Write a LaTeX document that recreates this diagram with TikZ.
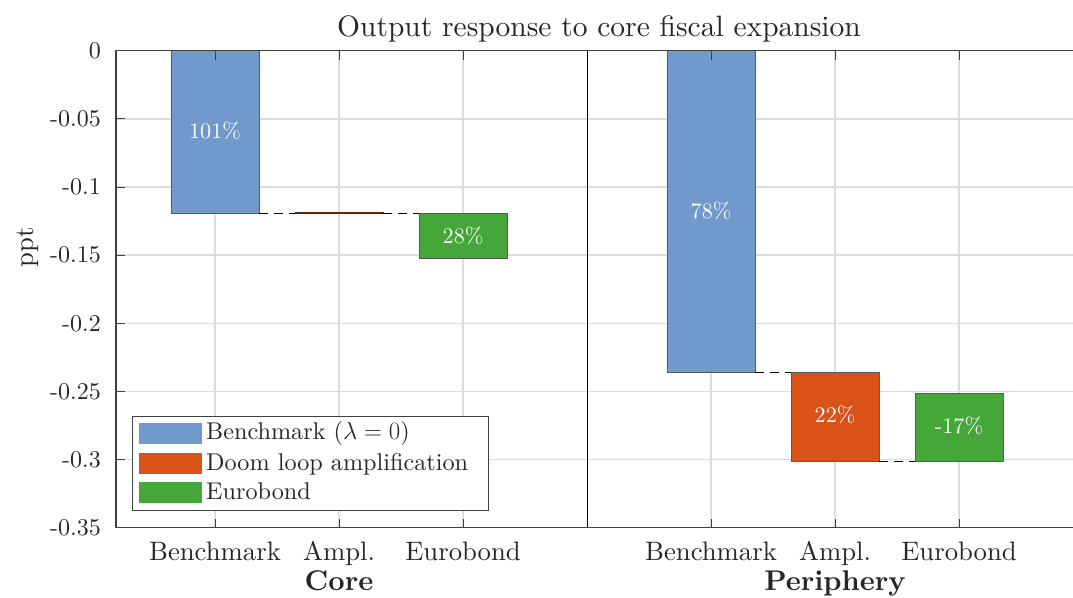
\documentclass[tikz,border=0pt]{standalone}
\DeclareFontFamily{TU}{lmten}{}
\DeclareFontShape{TU}{lmten}{m}{n}{<-> \UnicodeFontFile{lmroman10-regular}{\UnicodeFontTeXLigatures}}{}
\DeclareFontShape{TU}{lmten}{bx}{n}{<-> \UnicodeFontFile{lmroman10-bold}{\UnicodeFontTeXLigatures}}{}
\DeclareFontShape{TU}{lmten}{b}{n}{<-> ssub * lmten/bx/n}{}
\renewcommand{\rmdefault}{lmten}
\definecolor{cblue}{RGB}{114,153,204}
\definecolor{cred}{RGB}{217,83,25}
\definecolor{cgreen}{RGB}{69,167,58}
\definecolor{cedge}{RGB}{90,90,90}
\definecolor{cgrid}{RGB}{220,220,220}
\definecolor{caxis}{RGB}{64,64,64}
\definecolor{ctext}{RGB}{38,38,38}
\newcommand{\fs}[1]{\fontsize{#1}{#1}\selectfont}
\tikzset{
  bar/.style={draw=cedge, line width=1pt},
  barlabel/.style={text=white, font=\fs{22.2}, inner sep=0pt},
  ticklabel/.style={text=ctext, font=\fs{24}, anchor=east, inner sep=0pt},
  catlabel/.style={text=ctext, font=\fs{26.7}, anchor=base, inner sep=0pt},
  grouplabel/.style={text=ctext, font=\fs{28.5}\bfseries, anchor=base, inner sep=0pt},
  leglabel/.style={text=ctext, font=\fs{24.2}, anchor=base west, inner sep=0pt},
  gridline/.style={draw=cgrid, line width=1.4pt},
  axisline/.style={draw=caxis, line width=1.4pt},
  joinline/.style={draw=black, line width=1pt, dash pattern=on 9pt off 6pt},
}
\begin{document}
\begin{tikzpicture}[x=1pt,y=-1pt]
\useasboundingbox (0,0) rectangle (1073,597);
% grid
\foreach \yy in {118.8,187.0,255.1,323.3,391.4,459.6}
  \draw[gridline] (116,\yy) -- (1073,\yy);
\foreach \xx in {215,339,463,711,835,959}
  \draw[gridline] (\xx,50.7) -- (\xx,527.7);
% bars
\draw[bar, fill=cblue] (171,50.7) rectangle (259,213.5);
\draw[bar, fill=cred, draw=cred!45!black, line width=0.8pt] (295,212.6) rectangle (383,213.6);
\draw[bar, fill=cgreen] (419,213) rectangle (507,258);
\draw[bar, fill=cblue] (667,50.7) rectangle (755,372);
\draw[bar, fill=cred] (791,372) rectangle (879,461);
\draw[bar, fill=cgreen] (915,393) rectangle (1003,461);
% joins
\coordinate (j1a) at (259,213.5); \coordinate (j1b) at (295,213.5);
\coordinate (j2a) at (383,213); \coordinate (j2b) at (419,213);
\coordinate (j3a) at (755,372); \coordinate (j3b) at (791,372);
\coordinate (j4a) at (879,461); \coordinate (j4b) at (915,461);
\draw[joinline] (j1a) -- (j1b);
\draw[joinline] (j2a) -- (j2b);
\draw[joinline] (j3a) -- (j3b);
\draw[joinline] (j4a) -- (j4b);
% bar labels
\node[barlabel] (l1) at (215,131) {101\%};
\node[barlabel] (l2) at (463,236) {28\%};
\node[barlabel] (l3) at (711,211) {78\%};
\node[barlabel] (l4) at (835,415) {22\%};
\node[barlabel] (l5) at (959,426) {-17\%};
% axes
\draw[axisline] (1073,50.7) -- (116,50.7) -- (116,527.7) -- (1073,527.7);
\draw[line width=1.2pt, black] (587.3,50.7) -- (587.3,527.7);
\foreach \yy in {50.7,118.8,187.0,255.1,323.3,391.4,459.6,527.7}
  \draw[axisline, line width=1pt] (116,\yy) -- (125,\yy);
\foreach \xx in {215,339,463,711,835,959}{
  \draw[axisline, line width=1pt] (\xx,527.7) -- (\xx,518.7);
  \draw[axisline, line width=1pt] (\xx,50.7) -- (\xx,59.7);
}
% tick labels
\node[ticklabel] (t0) at (101,50.7) {0};
\node[ticklabel] (t1) at (101,118.8) {-0.05};
\node[ticklabel] (t2) at (101,187.0) {-0.1};
\node[ticklabel] (t3) at (101,255.1) {-0.15};
\node[ticklabel] (t4) at (101,323.3) {-0.2};
\node[ticklabel] (t5) at (101,391.4) {-0.25};
\node[ticklabel] (t6) at (101,459.6) {-0.3};
\node[ticklabel] (t7) at (101,527.7) {-0.35};
\node[catlabel, rotate=90, anchor=center] (ylab) at (28,247) {ppt};
% category labels
\node[catlabel] (x1) at (215,560) {Benchmark};
\node[catlabel] (x2) at (339,560) {Ampl.};
\node[catlabel] (x3) at (463,560) {Eurobond};
\node[catlabel] (x4) at (711,560) {Benchmark};
\node[catlabel] (x5) at (835,560) {Ampl.};
\node[catlabel] (x6) at (959,560) {Eurobond};
\node[grouplabel] (g1) at (339,590) {Core};
\node[grouplabel] (g2) at (835,590) {Periphery};
\node[catlabel, font=\fs{29.5}] (title) at (599,36) {Output response to core fiscal expansion};
% legend
\draw[draw=caxis, line width=1pt, fill=white] (132,416) rectangle (488,510);
\fill[cblue] (139,423) rectangle (202,444);
\fill[cred] (139,453) rectangle (202,474);
\fill[cgreen] (139,482) rectangle (202,503);
\node[leglabel] (lg1) at (206,439.5) {Benchmark ($\lambda = 0$)};
\node[leglabel] (lg2) at (206,470) {Doom loop amplification};
\node[leglabel] (lg3) at (206,499.3) {Eurobond};
\end{tikzpicture}
\end{document}
